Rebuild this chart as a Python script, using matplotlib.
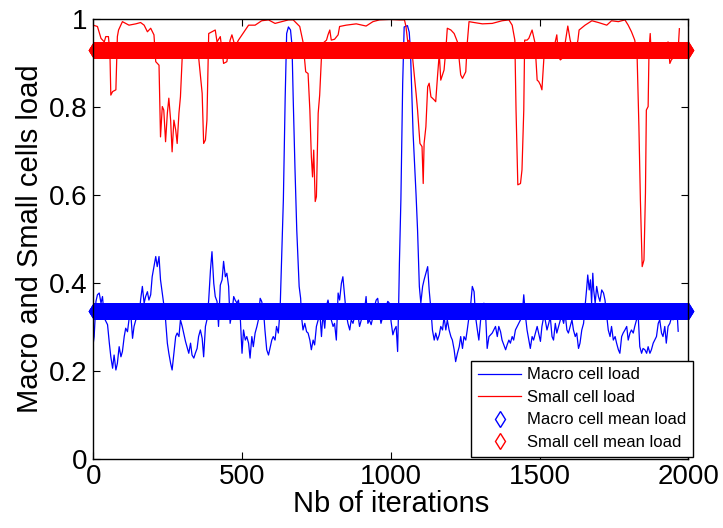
import numpy as np
import matplotlib
matplotlib.use("Agg")
import matplotlib.pyplot as plt

# macro cell load (iteration, load)
macro_it = [0, 3, 9, 14, 20, 26, 31, 37, 48, 54, 59, 65, 70, 76, 81, 87, 93, 98, 104, 109,
	115, 120, 126, 132, 137, 143, 148, 154, 159, 165, 171, 176, 182, 187, 193, 198, 204, 210, 215, 221,
	226, 232, 238, 243, 249, 254, 260, 265, 271, 277, 282, 288, 293, 299, 304, 310, 315, 321, 327, 332,
	338, 343, 349, 354, 360, 366, 371, 377, 382, 388, 394, 399, 405, 410, 416, 421, 427, 433, 438, 444,
	449, 455, 460, 466, 472, 477, 483, 488, 494, 500, 505, 511, 516, 522, 527, 533, 538, 544, 550, 555,
	561, 566, 572, 577, 583, 589, 594, 600, 605, 611, 616, 622, 628, 633, 639, 645, 650, 656, 663, 668,
	672, 678, 684, 689, 692, 697, 700, 705, 711, 717, 722, 728, 733, 739, 744, 750, 756, 761, 767, 772,
	778, 783, 789, 795, 800, 806, 811, 817, 823, 828, 834, 839, 845, 850, 856, 862, 867, 873, 878, 884,
	889, 895, 901, 906, 912, 917, 923, 928, 934, 940, 945, 951, 956, 962, 967, 973, 979, 984, 990, 995,
	1001, 1007, 1012, 1018, 1023, 1027, 1029, 1034, 1040, 1045, 1056, 1062, 1066, 1075, 1085, 1090, 1096, 1101, 1107, 1112,
	1118, 1124, 1129, 1135, 1140, 1146, 1151, 1157, 1163, 1168, 1174, 1179, 1185, 1190, 1196, 1202, 1207, 1213, 1218, 1224,
	1230, 1235, 1241, 1246, 1252, 1257, 1263, 1269, 1274, 1280, 1285, 1291, 1296, 1302, 1308, 1313, 1319, 1324, 1330, 1341,
	1352, 1358, 1363, 1369, 1374, 1386, 1391, 1397, 1402, 1408, 1413, 1419, 1425, 1430, 1436, 1441, 1447, 1453, 1458, 1464,
	1469, 1475, 1480, 1486, 1492, 1497, 1503, 1508, 1514, 1519, 1525, 1531, 1536, 1542, 1547, 1553, 1558, 1564, 1570, 1575,
	1581, 1586, 1592, 1597, 1603, 1609, 1614, 1620, 1625, 1631, 1636, 1642, 1648, 1653, 1659, 1662, 1667, 1671, 1675, 1679,
	1682, 1687, 1692, 1698, 1703, 1709, 1715, 1720, 1726, 1731, 1737, 1742, 1748, 1754, 1759, 1765, 1770, 1776, 1781, 1787,
	1793, 1798, 1804, 1809, 1815, 1820, 1826, 1832, 1837, 1843, 1848, 1854, 1860, 1865, 1871, 1876, 1882, 1887, 1893, 1899,
	1904, 1910, 1915, 1921, 1926, 1932, 1938, 1943, 1949, 1955, 1962, 1966]
macro_load = [0.263, 0.278, 0.358, 0.373, 0.377, 0.354, 0.369, 0.32, 0.305, 0.263, 0.232, 0.206, 0.236, 0.202, 0.217, 0.255, 0.232, 0.244, 0.278, 0.297,
	0.289, 0.316, 0.331, 0.274, 0.301, 0.316, 0.339, 0.32, 0.361, 0.392, 0.354, 0.369, 0.38, 0.361, 0.373, 0.414, 0.437, 0.46, 0.437, 0.46,
	0.407, 0.377, 0.346, 0.316, 0.263, 0.24, 0.217, 0.202, 0.24, 0.278, 0.286, 0.278, 0.316, 0.301, 0.286, 0.267, 0.255, 0.24, 0.263, 0.236,
	0.229, 0.24, 0.251, 0.278, 0.293, 0.274, 0.232, 0.301, 0.316, 0.361, 0.43, 0.471, 0.399, 0.369, 0.358, 0.301, 0.395, 0.407, 0.449, 0.414,
	0.422, 0.392, 0.308, 0.331, 0.369, 0.361, 0.354, 0.361, 0.323, 0.24, 0.293, 0.27, 0.278, 0.263, 0.229, 0.278, 0.255, 0.286, 0.301, 0.316,
	0.365, 0.358, 0.339, 0.293, 0.248, 0.236, 0.251, 0.27, 0.278, 0.27, 0.301, 0.286, 0.339, 0.45, 0.59, 0.82, 0.967, 0.982, 0.975, 0.94,
	0.82, 0.66, 0.52, 0.437, 0.392, 0.365, 0.323, 0.293, 0.308, 0.289, 0.286, 0.27, 0.248, 0.27, 0.259, 0.301, 0.316, 0.339, 0.278, 0.331,
	0.297, 0.346, 0.361, 0.339, 0.316, 0.301, 0.308, 0.27, 0.377, 0.361, 0.399, 0.414, 0.369, 0.331, 0.308, 0.293, 0.316, 0.308, 0.323, 0.32,
	0.331, 0.301, 0.316, 0.327, 0.339, 0.369, 0.308, 0.316, 0.305, 0.323, 0.346, 0.361, 0.365, 0.331, 0.308, 0.323, 0.331, 0.346, 0.358, 0.354,
	0.312, 0.282, 0.293, 0.301, 0.244, 0.369, 0.445, 0.59, 0.854, 0.982, 0.985, 0.97, 0.93, 0.74, 0.6, 0.52, 0.392, 0.354, 0.392, 0.407,
	0.422, 0.437, 0.384, 0.339, 0.293, 0.27, 0.286, 0.27, 0.282, 0.301, 0.293, 0.323, 0.293, 0.316, 0.293, 0.278, 0.27, 0.248, 0.221, 0.24,
	0.255, 0.278, 0.251, 0.278, 0.27, 0.293, 0.323, 0.354, 0.392, 0.38, 0.323, 0.293, 0.27, 0.316, 0.323, 0.354, 0.323, 0.251, 0.278, 0.286,
	0.301, 0.278, 0.301, 0.289, 0.27, 0.248, 0.259, 0.27, 0.263, 0.278, 0.27, 0.293, 0.301, 0.308, 0.316, 0.323, 0.373, 0.323, 0.293, 0.27,
	0.251, 0.278, 0.27, 0.286, 0.301, 0.286, 0.267, 0.301, 0.323, 0.316, 0.293, 0.308, 0.323, 0.278, 0.27, 0.308, 0.286, 0.301, 0.316, 0.323,
	0.308, 0.331, 0.293, 0.286, 0.301, 0.316, 0.293, 0.278, 0.286, 0.251, 0.263, 0.293, 0.308, 0.346, 0.392, 0.418, 0.384, 0.407, 0.354, 0.422,
	0.384, 0.354, 0.392, 0.369, 0.358, 0.384, 0.377, 0.361, 0.323, 0.293, 0.278, 0.301, 0.27, 0.278, 0.263, 0.248, 0.24, 0.278, 0.286, 0.293,
	0.301, 0.27, 0.286, 0.293, 0.286, 0.301, 0.316, 0.32, 0.255, 0.24, 0.251, 0.248, 0.24, 0.255, 0.24, 0.248, 0.263, 0.27, 0.278, 0.308,
	0.316, 0.286, 0.278, 0.301, 0.263, 0.301, 0.308, 0.32, 0.316, 0.33, 0.338, 0.29]

# small cell load
small_it = [0, 14, 26, 37, 42, 51, 56, 59, 65, 76, 81, 85, 98, 120, 143, 159, 171, 182, 193, 204,
	210, 221, 226, 232, 237, 243, 249, 254, 260, 265, 271, 277, 282, 288, 293, 299, 310, 327, 354, 366,
	371, 377, 382, 388, 399, 410, 416, 427, 438, 449, 460, 466, 477, 488, 500, 511, 522, 544, 566, 589,
	611, 633, 656, 672, 694, 705, 714, 722, 728, 733, 737, 741, 746, 750, 756, 761, 767, 772, 784, 789,
	795, 800, 811, 823, 828, 850, 884, 917, 940, 962, 995, 1029, 1046, 1051, 1057, 1062, 1073, 1085, 1090, 1098,
	1105, 1109, 1112, 1118, 1124, 1129, 1135, 1140, 1146, 1151, 1157, 1163, 1168, 1179, 1185, 1190, 1202, 1213, 1224, 1230,
	1235, 1241, 1252, 1257, 1263, 1280, 1308, 1341, 1374, 1397, 1408, 1417, 1421, 1427, 1436, 1441, 1447, 1450, 1458, 1464,
	1475, 1484, 1488, 1492, 1497, 1503, 1508, 1512, 1517, 1525, 1531, 1536, 1547, 1558, 1564, 1570, 1575, 1586, 1595, 1603,
	1609, 1620, 1629, 1633, 1653, 1676, 1698, 1726, 1742, 1765, 1787, 1798, 1809, 1820, 1828, 1834, 1839, 1845, 1851, 1856,
	1859, 1865, 1868, 1872, 1876, 1887, 1899, 1910, 1921, 1932, 1938, 1943, 1952, 1960, 1966, 1970]
small_load = [0.986, 0.983, 0.956, 0.948, 0.96, 0.96, 0.922, 0.827, 0.835, 0.839, 0.96, 0.975, 0.994, 0.986, 0.989, 0.992, 0.986, 0.971, 0.979, 0.964,
	0.903, 0.895, 0.732, 0.801, 0.793, 0.721, 0.786, 0.82, 0.77, 0.698, 0.77, 0.748, 0.717, 0.786, 0.823, 0.914, 0.914, 0.914, 0.914, 0.831,
	0.717, 0.725, 0.77, 0.967, 0.971, 0.975, 0.948, 0.96, 0.899, 0.903, 0.952, 0.964, 0.937, 0.952, 0.964, 0.975, 0.986, 0.986, 0.996, 0.998,
	0.99, 0.994, 0.998, 0.998, 0.983, 0.948, 0.88, 0.876, 0.793, 0.687, 0.641, 0.702, 0.585, 0.596, 0.786, 0.827, 0.914, 0.945, 0.952, 0.964,
	0.975, 0.952, 0.954, 0.964, 0.983, 0.986, 0.989, 0.984, 0.994, 0.998, 0.999, 0.998, 0.998, 0.983, 0.948, 0.952, 0.914, 0.831, 0.793, 0.717,
	0.71, 0.626, 0.717, 0.755, 0.846, 0.854, 0.823, 0.82, 0.816, 0.812, 0.869, 0.922, 0.861, 0.884, 0.93, 0.979, 0.975, 0.967, 0.948, 0.907,
	0.873, 0.865, 0.88, 0.945, 0.994, 0.992, 0.989, 0.99, 0.996, 0.998, 0.986, 0.952, 0.793, 0.623, 0.626, 0.657, 0.793, 0.952, 0.952, 0.956,
	0.975, 0.948, 0.907, 0.861, 0.858, 0.85, 0.839, 0.884, 0.937, 0.945, 0.914, 0.933, 0.93, 0.964, 0.914, 0.907, 0.91, 0.945, 0.984, 0.952,
	0.937, 0.922, 0.952, 0.975, 0.986, 0.996, 0.992, 0.986, 0.996, 0.994, 0.998, 0.986, 0.971, 0.952, 0.914, 0.755, 0.588, 0.437, 0.452, 0.604,
	0.793, 0.801, 0.93, 0.967, 0.914, 0.922, 0.914, 0.922, 0.937, 0.948, 0.899, 0.907, 0.914, 0.922, 0.93, 0.978]

# mean loads over the 2000 iterations
n_iter = 2000
macro_mean = 0.336
small_mean = 0.930

plt.rcParams['font.family'] = ['Liberation Sans', 'DejaVu Sans']

fig = plt.figure(figsize=(7.23, 5.28), dpi=100)
ax = fig.add_axes([0.129, 0.131, 0.823, 0.833])

iters = np.arange(1, n_iter + 1)
ax.plot(macro_it, macro_load, color='#0000ff', lw=0.9, label='Macro cell load')
ax.plot(small_it, small_load, color='#ff0000', lw=0.9, label='Small cell load')
ax.plot(iters, np.full(n_iter, macro_mean), ls='none', marker='d', ms=8.5, mfc='none',
	mec='#0000ff', mew=1.0, clip_on=False, label='Macro cell mean load')
ax.plot(iters, np.full(n_iter, small_mean), ls='none', marker='d', ms=8.5, mfc='none',
	mec='#ff0000', mew=1.0, clip_on=False, label='Small cell mean load')

ax.set_xlim(0, 2000)
ax.set_ylim(0, 1)
ax.set_xticks([0, 500, 1000, 1500, 2000])
ax.set_yticks([0, 0.2, 0.4, 0.6, 0.8, 1])
ax.set_yticklabels(['0', '0.2', '0.4', '0.6', '0.8', '1'])
ax.tick_params(direction='in', top=True, right=True, length=5, width=0.8, labelsize=20, pad=4)
for s in ax.spines.values():
	s.set_linewidth(1.0)

ax.set_xlabel('Nb of iterations', fontsize=21, labelpad=0)
ax.set_ylabel('Macro and Small cells load', fontsize=21, labelpad=4)

leg = ax.legend(loc='lower right', bbox_to_anchor=(1.008, 0.005), borderaxespad=0,
	fontsize=12, fancybox=False, framealpha=1, edgecolor='black',
	handlelength=2.6, handletextpad=0.35, labelspacing=0.45, borderpad=0.4)
leg.get_frame().set_linewidth(1.0)
leg.set_zorder(5)

fig.savefig('out.png', dpi=100)
